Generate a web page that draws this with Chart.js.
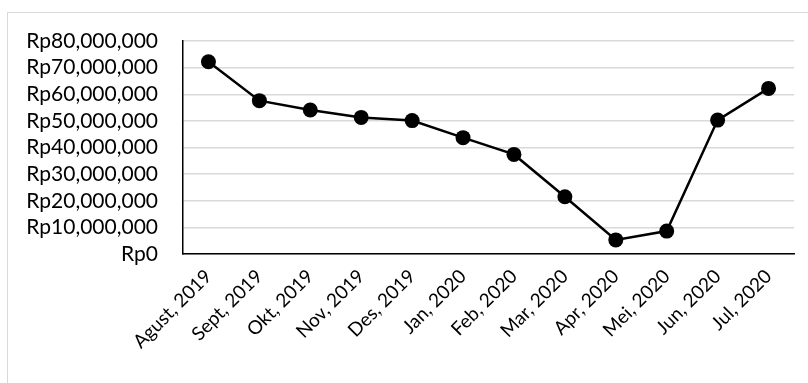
<!DOCTYPE html>
<html>
<head>
<meta charset="utf-8">
<script src="https://cdn.jsdelivr.net/npm/chart.js@4/dist/chart.umd.min.js"></script>
<style>
  html, body { margin: 0; padding: 0; background: #fff; }
  #wrap { position: relative; width: 808px; height: 383px; overflow: hidden; }
  #frame { position: absolute; left: 7px; top: 12px; width: 820px; height: 400px; border: 1px solid #d9d9d9; box-sizing: border-box; }
  canvas { position: absolute; left: 0; top: 0; }
</style>
</head>
<body>
<div id="wrap">
  <div id="frame"></div>
  <canvas id="chart" width="808" height="383"></canvas>
</div>
<script>
const months = ["Agust, 2019", "Sept, 2019", "Okt, 2019", "Nov, 2019", "Des, 2019", "Jan, 2020",
  "Feb, 2020", "Mar, 2020", "Apr, 2020", "Mei, 2020", "Jun, 2020", "Jul, 2020"];
const revenue = [72200000, 57600000, 54100000, 51300000, 50100000, 43700000,
  37400000, 21500000, 5300000, 8600000, 50300000, 62200000];
const yMax = 80000000;
const yStep = 10000000;

const font = "Lato, 'Open Sans', sans-serif";

new Chart(document.getElementById("chart"), {
  type: "line",
  data: {
    labels: months,
    datasets: [{
      data: revenue,
      borderColor: "#000",
      borderWidth: 2.5,
      backgroundColor: "#000",
      pointRadius: 7.5,
      pointBackgroundColor: "#000",
      pointBorderWidth: 0,
      tension: 0,
      fill: false
    }]
  },
  options: {
    responsive: false,
    animation: false,
    devicePixelRatio: 1,
    layout: { padding: { top: 41, right: 14, bottom: 0, left: 0 } },
    plugins: { legend: { display: false }, tooltip: { enabled: false } },
    scales: {
      x: {
        offset: true,
        grid: { display: false },
        border: { color: "#000", width: 1.5 },
        ticks: {
          color: "#000",
          font: { family: font, size: 19 },
          maxRotation: 45,
          minRotation: 45,
          padding: 3,
          autoSkip: false
        },
        afterFit: (scale) => { scale.height = 129; }
      },
      y: {
        min: 0,
        max: yMax,
        grid: { color: "#d9d9d9", lineWidth: 1.5, drawTicks: false },
        border: { color: "#000", width: 1.5 },
        ticks: {
          stepSize: yStep,
          autoSkip: false,
          color: "#000",
          padding: 25,
          font: { family: font, size: 21, lineHeight: 1 },
          callback: (v) => "Rp" + Number(v).toLocaleString("en-US")
        },
        afterFit: (scale) => { scale.width = 183; }
      }
    }
  }
});
</script>
</body>
</html>
